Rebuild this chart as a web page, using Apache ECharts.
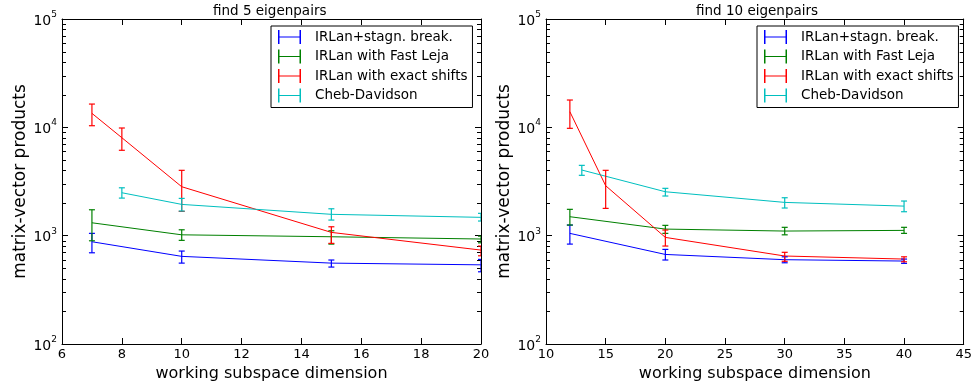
<!DOCTYPE html>
<html>
<head>
<meta charset="utf-8">
<script src="https://cdn.jsdelivr.net/npm/echarts@6/dist/echarts.min.js"></script>
<style>
  html, body { margin: 0; padding: 0; background: #fff; }
  #main { width: 975px; height: 387px; }
</style>
</head>
<body>
<div id="main"></div>
<script>
// find 5 eigenpairs
var stagn5X = [7, 10, 15, 20];
var stagn5 = [879, 644, 558, 538];
var stagn5Lo = [695, 558, 513, 464];
var stagn5Hi = [1050, 721, 596, 604];

var leja5X = [7, 10, 15, 20];
var leja5 = [1315, 1018, 977, 931];
var leja5Lo = [897, 905, 836, 859];
var leja5Hi = [1734, 1133, 1110, 990];

var exact5X = [7, 8, 10, 15, 20];
var exact5 = [13460, 8020, 2830, 1072, 736];
var exact5Lo = [10350, 6140, 1675, 849, 652];
var exact5Hi = [16400, 9860, 4010, 1208, 802];

var cheb5X = [8, 10, 15, 20];
var cheb5 = [2490, 1944, 1574, 1476];
var cheb5Lo = [2222, 1687, 1393, 1365];
var cheb5Hi = [2766, 2208, 1771, 1607];

// find 10 eigenpairs
var stagn10X = [12, 20, 30, 40];
var stagn10 = [1050, 671, 600, 583];
var stagn10Lo = [836, 596, 562, 555];
var stagn10Hi = [1253, 747, 638, 608];

var leja10X = [12, 20, 30, 40];
var leja10 = [1496, 1150, 1103, 1119];
var leja10Lo = [1253, 1050, 1018, 1050];
var leja10Hi = [1750, 1245, 1194, 1194];

var exact10X = [12, 15, 20, 30, 40];
var exact10 = [13940, 2890, 964, 649, 608];
var exact10Lo = [9790, 1786, 802, 580, 574];
var exact10Hi = [17870, 4010, 1127, 702, 638];

var cheb10X = [13, 20, 30, 40];
var cheb10 = [4036, 2543, 2028, 1874];
var cheb10Lo = [3606, 2323, 1800, 1663];
var cheb10Hi = [4457, 2735, 2239, 2088];

// log-axis minor tick values (2..9 per decade)
var minorTicks = [200, 300, 400, 500, 600, 700, 800, 900,
    2000, 3000, 4000, 5000, 6000, 7000, 8000, 9000,
    20000, 30000, 40000, 50000, 60000, 70000, 80000, 90000];

var names = ['IRLan+stagn. break.', 'IRLan with Fast Leja', 'IRLan with exact shifts', 'Cheb-Davidson'];
var colors = ['#0000ff', '#008000', '#ff0000', '#00bfbf'];
var titles = ['find 5 eigenpairs', 'find 10 eigenpairs'];
var xLabel = 'working subspace dimension';
var yLabel = 'matrix-vector products';

var FONT = 'DejaVu Sans';
var myChart = echarts.init(document.getElementById('main'));

function errSeries(name, color, panel, xs, ys, lo, hi) {
    var line = {
        name: name,
        type: 'line',
        xAxisIndex: panel * 2,
        yAxisIndex: panel * 2,
        data: xs.map(function (x, i) { return [x, ys[i]]; }),
        showSymbol: false,
        symbol: 'none',
        color: color,
        lineStyle: { width: 1, color: color },
        animation: false,
        z: 3
    };
    var bars = {
        name: name + ' err',
        type: 'custom',
        xAxisIndex: panel * 2,
        yAxisIndex: panel * 2,
        clip: true,
        animation: false,
        encode: { x: 0, y: [1, 2] },
        data: xs.map(function (x, i) { return [x, lo[i], hi[i]]; }),
        renderItem: function (params, api) {
            var top = api.coord([api.value(0), api.value(2)]);
            var bot = api.coord([api.value(0), api.value(1)]);
            var hw = 3;
            var st = { stroke: color, lineWidth: 1.2 };
            return {
                type: 'group',
                children: [
                    { type: 'line', shape: { x1: top[0], y1: top[1], x2: bot[0], y2: bot[1] }, style: st },
                    { type: 'line', shape: { x1: top[0] - hw, y1: top[1], x2: top[0] + hw, y2: top[1] }, style: st },
                    { type: 'line', shape: { x1: bot[0] - hw, y1: bot[1], x2: bot[0] + hw, y2: bot[1] }, style: st }
                ]
            };
        },
        z: 4
    };
    return [line, bars];
}

// small inward ticks at 2..9 x 10^k on both vertical spines
function minorTickSeries(panel, xMin) {
    return {
        type: 'custom',
        xAxisIndex: panel * 2,
        yAxisIndex: panel * 2,
        silent: true,
        animation: false,
        encode: { x: 0, y: 1 },
        data: minorTicks.map(function (v) { return [xMin, v]; }),
        renderItem: function (params, api) {
            var p = api.coord([api.value(0), api.value(1)]);
            var x0 = params.coordSys.x;
            var x1 = x0 + params.coordSys.width;
            var y = Math.round(p[1]) + 0.5;
            var st = { stroke: '#000', lineWidth: 1 };
            return {
                type: 'group',
                children: [
                    { type: 'line', shape: { x1: x0, y1: y, x2: x0 + 4, y2: y }, style: st },
                    { type: 'line', shape: { x1: x1 - 4, y1: y, x2: x1, y2: y }, style: st }
                ]
            };
        },
        z: 2
    };
}

var series = [].concat(
    errSeries(names[0], colors[0], 0, stagn5X, stagn5, stagn5Lo, stagn5Hi),
    errSeries(names[1], colors[1], 0, leja5X, leja5, leja5Lo, leja5Hi),
    errSeries(names[2], colors[2], 0, exact5X, exact5, exact5Lo, exact5Hi),
    errSeries(names[3], colors[3], 0, cheb5X, cheb5, cheb5Lo, cheb5Hi),
    errSeries(names[0], colors[0], 1, stagn10X, stagn10, stagn10Lo, stagn10Hi),
    errSeries(names[1], colors[1], 1, leja10X, leja10, leja10Lo, leja10Hi),
    errSeries(names[2], colors[2], 1, exact10X, exact10, exact10Lo, exact10Hi),
    errSeries(names[3], colors[3], 1, cheb10X, cheb10, cheb10Lo, cheb10Hi),
    [minorTickSeries(0, 6), minorTickSeries(1, 10)]
);

var tickStyle = { show: true, inside: true, length: 6, lineStyle: { color: '#000', width: 1 } };
var lineStyle = { show: true, lineStyle: { color: '#000', width: 1 } };

function xAxes(grid, min, max, interval) {
    return [{
        type: 'value', gridIndex: grid, min: min, max: max, interval: interval,
        position: 'bottom',
        axisLine: lineStyle, axisTick: tickStyle, splitLine: { show: false },
        axisLabel: { color: '#000', fontFamily: FONT, fontSize: 13, margin: 4 },
        name: xLabel, nameLocation: 'middle', nameGap: 20,
        nameTextStyle: { color: '#000', fontFamily: FONT, fontSize: 16 }
    }, {
        type: 'value', gridIndex: grid, min: min, max: max, interval: interval,
        position: 'top',
        axisLine: lineStyle, axisTick: tickStyle, splitLine: { show: false },
        axisLabel: { show: false }
    }];
}

function yAxes(grid) {
    return [{
        type: 'log', logBase: 10, gridIndex: grid, min: 100, max: 100000,
        position: 'left',
        axisLine: lineStyle, axisTick: tickStyle, splitLine: { show: false },
        axisLabel: {
            margin: 5,
            formatter: function (v) { return '{b|10}{s|' + Math.round(Math.log10(v)) + '}'; },
            rich: {
                b: { fontFamily: FONT, fontSize: 14, color: '#000', lineHeight: 18, verticalAlign: 'bottom' },
                s: { fontFamily: FONT, fontSize: 9, color: '#000', lineHeight: 18, verticalAlign: 'top' }
            }
        },
        name: yLabel, nameLocation: 'middle', nameGap: 29,
        nameTextStyle: { color: '#000', fontFamily: FONT, fontSize: 17 }
    }, {
        type: 'log', logBase: 10, gridIndex: grid, min: 100, max: 100000,
        position: 'right',
        axisLine: lineStyle, axisTick: tickStyle, splitLine: { show: false },
        axisLabel: { show: false }
    }];
}

function legend(left) {
    return {
        left: left, top: 26, orient: 'vertical',
        data: names,
        itemWidth: 23, itemHeight: 14, itemGap: 5.5,
        icon: 'path://M0,0h1.5v14h-1.5zM0,6.5h23v1h-23zM21.5,0h1.5v14h-1.5z',
        backgroundColor: '#fff', borderColor: '#000', borderWidth: 1, borderRadius: 0,
        padding: [4, 5, 5, 7],
        textStyle: { color: '#000', fontFamily: FONT, fontSize: 13.5, padding: [0, 0, 0, 9] },
        selectedMode: false
    };
}

var option = {
    animation: false,
    backgroundColor: '#fff',
    title: [
        { text: titles[0], left: 213, top: 4, padding: 0, textStyle: { color: '#000', fontFamily: FONT, fontSize: 13.5, fontWeight: 'normal' } },
        { text: titles[1], left: 696, top: 4, padding: 0, textStyle: { color: '#000', fontFamily: FONT, fontSize: 13.5, fontWeight: 'normal' } }
    ],
    legend: [legend(271), legend(757)],
    grid: [
        { left: 62, right: 494, top: 19, bottom: 43 },
        { left: 546, right: 9, top: 19, bottom: 43 }
    ],
    xAxis: [].concat(xAxes(0, 6, 20, 2), xAxes(1, 10, 45, 5)),
    yAxis: [].concat(yAxes(0), yAxes(1)),
    series: series
};

option && myChart.setOption(option);
</script>
</body>
</html>
